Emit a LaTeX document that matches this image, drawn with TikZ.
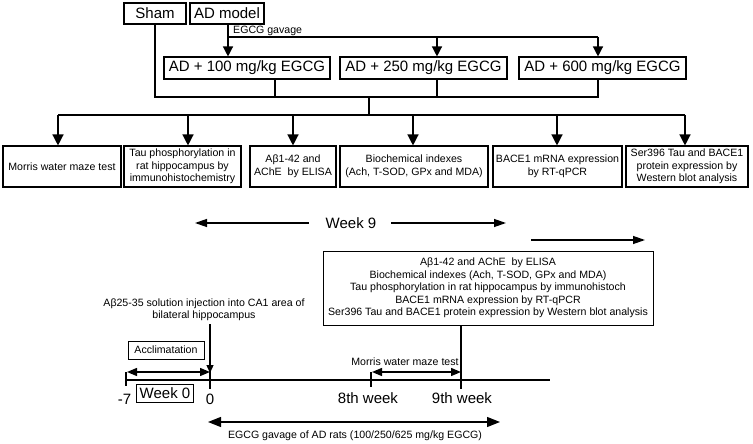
\documentclass[tikz,border=0pt]{standalone}
\usepackage{fontspec}
\setmainfont{Liberation Sans}
\usetikzlibrary{arrows.meta,calc}
\begin{document}
\begin{tikzpicture}[x=1pt,y=-1pt,
  big/.style={font=\fontsize{15}{18}\selectfont},
  small/.style={font=\fontsize{10.6}{12.5}\selectfont},
  box/.style={draw,line width=1.1pt,inner sep=0pt,align=center},
  txt/.style={inner sep=0pt,align=center},
  ln/.style={line width=1.3pt},
  arr/.style={ln,-{Triangle[length=10pt,width=10pt]}},
  arrd/.style={ln,-{Triangle[length=11pt,width=11pt]}},
  arrl/.style={ln,-{Triangle[length=12pt,width=8pt]}},
  darr/.style={ln,{Triangle[length=10pt,width=8pt]}-{Triangle[length=10pt,width=8pt]}},
  tick/.style={line width=1.5pt}]
\useasboundingbox (0,0) rectangle (753,444);

% top groups
\node[box,big,minimum width=62pt,minimum height=21pt] (sham) at (155,13.5) {Sham};
\node[box,big,minimum width=74pt,minimum height=21pt] (adm) at (227,13.5) {AD model};
\node[box,big,minimum width=166pt,minimum height=22pt] (g100) at (247,68) {AD + 100 mg/kg EGCG};
\node[box,big,minimum width=167pt,minimum height=22pt] (g250) at (423.5,68) {AD + 250 mg/kg EGCG};
\node[box,big,minimum width=167pt,minimum height=22pt] (g600) at (602.5,68) {AD + 600 mg/kg EGCG};

\coordinate (ga) at (228,37);
\coordinate (gb) at (437,37);
\coordinate (gc) at (598,37);
\draw[ln] (adm.south -| ga) -- (ga) -- (gc);
\draw[arr] (ga) -- (ga |- g100.north);
\draw[arr] (gb) -- (gb |- g250.north);
\draw[arr] (gc) -- (gc |- g600.north);
\node[small,txt,anchor=base west] (gl) at (233,34) {EGCG gavage};

% collecting line
\coordinate (cl) at (155,97);
\coordinate (c100) at (275,97);
\coordinate (cm) at (369,97);
\coordinate (c250) at (437,97);
\coordinate (cr) at (598,97);
\draw[ln] (sham.south) -- (cl) -- (cr) -- (cr |- g600.south);
\draw[ln] (c100 |- g100.south) -- (c100);
\draw[ln] (c250 |- g250.south) -- (c250);

% bottom boxes
\node[box,small,minimum width=118pt,minimum height=41pt] (b1) at (62,166.5) {Morris water maze test};
\node[box,small,minimum width=117pt,minimum height=41pt] (b2) at (182.5,166.5) {Tau phosphorylation in\\rat hippocampus by\\immunohistochemistry};
\node[box,small,minimum width=86pt,minimum height=41pt] (b3) at (293,166.5) {Aβ1-42 and\\AChE~ by ELISA};
\node[box,small,minimum width=148pt,minimum height=41pt] (b4) at (414,166.5) {Biochemical indexes\\(Ach, T-SOD, GPx and MDA)};
\node[box,small,minimum width=129pt,minimum height=41pt] (b5) at (557.5,166.5) {BACE1 mRNA expression\\by RT-qPCR};
\node[box,small,minimum width=122pt,minimum height=41pt] (b6) at (687,166.5) {Ser396 Tau and BACE1\\protein expression by\\Western blot analysis};

\coordinate (dm) at (369,115);
\coordinate (d1) at (58,115);
\coordinate (d2) at (188,115);
\coordinate (d3) at (293,115);
\coordinate (d4) at (413,115);
\coordinate (d5) at (557,115);
\coordinate (d6) at (685,115);
\draw[ln] (cm) -- (dm);
\draw[ln] (d1) -- (d6);
\foreach \i in {1,...,6} {\draw[arrd] (d\i) -- (d\i |- b\i.north);}

% week 9
\node[big,txt] (w9) at (351,223) {Week 9};
\coordinate (w9l) at (195,223);
\coordinate (w9r) at (506,223);
\draw[arrl] ([xshift=-17pt]w9.west) -- (w9l);
\draw[arrl] ([xshift=15pt]w9.east) -- (w9r);
\coordinate (a1) at (531,240);
\coordinate (a2) at (645,240);
\draw[arrl] (a1) -- (a2);

% big box
\node[box,small,minimum width=330pt,minimum height=74pt,line width=1pt] (bb) at (488,288)
 {Aβ1-42 and AChE~ by ELISA\\Biochemical indexes (Ach, T-SOD, GPx and MDA)\\Tau phosphorylation in rat hippocampus by immunohistoch\\BACE1 mRNA expression by RT-qPCR\\Ser396 Tau and BACE1 protein expression by Western blot analysis};

% timeline
\coordinate (tl) at (126,380);
\coordinate (tr) at (550,380);
\draw[line width=2pt] (tl) -- (tr);
\coordinate (tm7a) at (126,372);
\coordinate (tm7b) at (126,386);
\draw[tick] (tm7a) -- (tm7b);
\coordinate (t8a) at (371,372);
\coordinate (t8b) at (371,387);
\draw[tick] (t8a) -- (t8b);
\coordinate (t9) at (461,389);
\draw[ln] (bb.south -| t9) -- (t9);

\node[small,txt] (inj) at (204,310) {Aβ25-35 solution injection into CA1 area of\\bilateral hippocampus};
\coordinate (t0) at (210,389);
\coordinate (t0a) at (210,373);
\path (inj.south -| t0) ++(0,3) coordinate (inj0);
\draw[ln] (inj0) -- (t0);
\draw[ln,-{Triangle[length=8pt,width=7pt]}] (inj0) -- (t0a);

\node[box,small,minimum width=76pt,minimum height=18pt,line width=1pt] (acc) at (166,350) {Acclimatation};
\coordinate (acl) at (127,372);
\coordinate (acr) at (210,372);
\draw[darr] (acl) -- (acr);

\node[box,big,minimum width=57pt,minimum height=18pt,line width=1pt] (wk0) at (165,393.5) {Week 0};
\node[big,txt] (lm7) at (124.5,399) {-7};
\node[big,txt] (l0) at (210,399.5) {0};
\node[big,txt] (l8) at (368,398) {8th week};
\node[big,txt] (l9) at (462,398) {9th week};

\node[small,txt] (mwl) at (405,362) {Morris water maze test};
\coordinate (mwa) at (372,372);
\coordinate (mwb) at (461,372);
\draw[darr] (mwa) -- (mwb);

\coordinate (ega) at (208,422);
\coordinate (egb) at (500,422);
\draw[ln,{Triangle[length=13pt,width=10pt]}-{Triangle[length=13pt,width=10pt]}] (ega) -- (egb);
\node[small,txt] (egl) at (355,436) {EGCG gavage of AD rats (100/250/625 mg/kg EGCG)};
\end{tikzpicture}
\end{document}
